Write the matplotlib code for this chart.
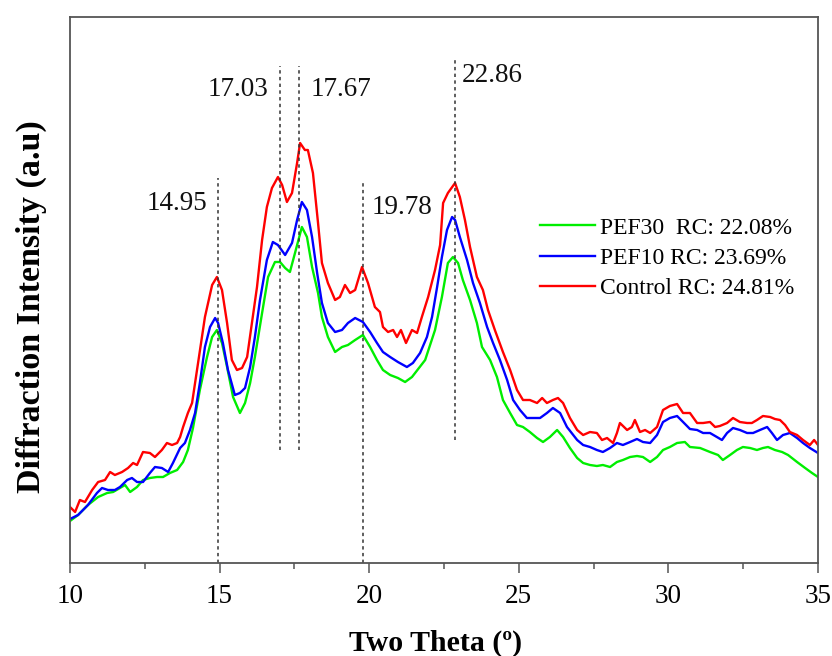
import matplotlib
matplotlib.use("Agg")
import matplotlib.pyplot as plt
from matplotlib.ticker import MultipleLocator

plt.rcParams['font.family'] = ['Liberation Serif', 'DejaVu Serif']

# ---- data: (2theta, intensity a.u.) ----
control = [(10.00,56),(10.17,51),(10.33,63),(10.50,61),(10.74,73),(10.94,81),(11.17,83),(11.34,91),(11.50,88),(11.74,91),
           (11.94,95),(12.11,100),(12.24,98),(12.44,111),(12.67,110),(12.84,106),(13.07,113),(13.24,120),(13.41,118),(13.58,120),
           (13.68,126),(13.78,136),(13.94,150),(14.08,160),(14.28,200),(14.51,246),(14.75,278),(14.91,286),(15.08,273),(15.25,240),
           (15.41,203),(15.58,193),(15.75,195),(15.92,206),(16.08,240),(16.25,276),(16.42,323),(16.58,356),(16.75,375),(16.95,386),
           (17.09,378),(17.25,361),(17.42,370),(17.59,400),(17.69,420),(17.85,413),(17.95,413),(18.12,390),(18.29,340),(18.42,300),
           (18.62,280),(18.86,263),(19.02,266),(19.19,278),(19.36,270),(19.53,273),(19.76,296),(19.96,280),(20.19,256),(20.36,251),
           (20.46,236),(20.63,231),(20.80,233),(20.93,226),(21.06,233),(21.23,220),(21.43,233),(21.60,230),(21.76,246),(21.97,266),
           (22.20,293),(22.37,318),(22.47,360),(22.63,370),(22.87,380),(23.03,366),(23.20,343),(23.37,316),(23.60,286),(23.80,273),
           (23.97,253),(24.20,233),(24.47,211),(24.71,193),(24.94,173),(25.14,163),(25.37,163),(25.61,160),(25.78,165),(25.94,160),
           (26.14,163),(26.31,165),(26.48,160),(26.71,145),(26.95,133),(27.15,128),(27.38,131),(27.61,130),(27.78,123),(27.95,125),
           (28.15,120),(28.28,130),(28.38,140),(28.62,133),(28.78,136),(28.88,143),(29.05,131),(29.22,133),(29.39,130),(29.62,136),
           (29.82,153),(30.05,157),(30.29,159),(30.49,150),(30.72,150),(30.96,140),(31.16,140),(31.39,141),(31.56,136),(31.72,137),
           (31.96,140),(32.16,145),(32.39,141),(32.63,140),(32.79,140),(32.96,143),(33.16,147),(33.40,146),(33.56,144),(33.73,143),
           (33.90,138),(34.06,131),(34.30,128),(34.50,123),(34.73,118),(34.87,123),(35.00,118)]

pef10 = [(10.00,44),(10.27,48),(10.60,58),(10.90,70),(11.07,75),(11.27,73),(11.50,73),(11.67,76),(11.91,83),(12.07,85),
         (12.24,81),(12.44,81),(12.67,90),(12.84,96),(13.07,95),(13.28,91),(13.44,100),(13.68,115),(13.84,120),(14.01,133),
         (14.18,150),(14.34,180),(14.51,216),(14.68,236),(14.85,245),(14.95,240),(15.11,220),(15.28,193),(15.51,168),(15.68,170),
         (15.85,175),(16.02,196),(16.18,226),(16.35,263),(16.58,303),(16.78,321),(16.95,318),(17.19,308),(17.42,320),(17.59,343),
         (17.75,361),(17.92,353),(18.09,326),(18.26,290),(18.42,260),(18.62,240),(18.86,231),(19.09,233),(19.29,240),(19.53,245),
         (19.79,241),(20.03,231),(20.26,220),(20.46,211),(20.70,206),(20.96,201),(21.26,196),(21.46,200),(21.70,210),(21.93,226),
         (22.10,246),(22.27,276),(22.43,306),(22.60,333),(22.77,346),(22.87,343),(23.03,326),(23.27,303),(23.47,280),(23.70,260),
         (23.94,236),(24.14,220),(24.37,203),(24.61,183),(24.81,163),(25.04,153),(25.27,145),(25.54,145),(25.71,145),(25.94,150),
         (26.14,155),(26.38,150),(26.61,136),(26.95,123),(27.15,118),(27.38,116),(27.61,113),(27.81,111),(28.05,115),(28.28,120),
         (28.48,118),(28.72,121),(28.95,124),(29.15,121),(29.39,120),(29.62,128),(29.82,141),(30.05,145),(30.29,147),(30.49,141),
         (30.72,134),(30.96,133),(31.16,130),(31.39,130),(31.62,126),(31.79,123),(31.96,130),(32.16,135),(32.39,133),(32.63,130),
         (32.83,130),(33.06,133),(33.30,136),(33.46,130),(33.63,123),(33.83,128),(34.06,130),(34.30,125),(34.50,120),(34.73,115),
         (35.00,110)]

pef30 = [(10.00,42),(10.27,48),(10.60,58),(10.94,66),(11.24,70),(11.44,71),(11.67,75),(11.84,78),(12.01,71),(12.24,76),
         (12.44,83),(12.67,85),(12.91,86),(13.11,86),(13.34,90),(13.58,93),(13.78,101),(13.94,113),(14.11,135),(14.34,173),
         (14.58,206),(14.75,226),(14.91,233),(15.08,220),(15.25,196),(15.45,166),(15.68,150),(15.85,160),(16.02,180),(16.18,206),
         (16.42,250),(16.62,286),(16.85,301),(17.02,301),(17.19,295),(17.35,291),(17.52,310),(17.75,336),(17.92,326),(18.09,296),
         (18.29,270),(18.42,246),(18.62,226),(18.86,211),(19.09,216),(19.29,218),(19.53,223),(19.79,228),(20.03,216),(20.26,203),
         (20.46,193),(20.70,188),(20.96,185),(21.20,181),(21.43,186),(21.87,203),(22.20,233),(22.43,266),(22.63,300),(22.80,306),
         (22.97,300),(23.13,283),(23.37,263),(23.60,240),(23.77,216),(24.04,203),(24.27,186),(24.47,163),(24.71,150),(24.94,138),
         (25.14,136),(25.37,131),(25.61,125),(25.81,121),(26.04,126),(26.28,133),(26.48,126),(26.71,115),(26.95,105),(27.15,100),
         (27.38,98),(27.61,97),(27.81,98),(28.05,96),(28.28,101),(28.48,103),(28.72,106),(28.95,107),(29.15,106),(29.39,101),
         (29.62,106),(29.82,113),(30.05,116),(30.29,120),(30.55,121),(30.72,116),(31.06,115),(31.39,111),(31.66,108),(31.82,103),
         (32.06,108),(32.29,113),(32.49,116),(32.73,115),(32.96,113),(33.16,115),(33.33,116),(33.56,113),(33.80,111),(34.00,108),
         (34.30,101),(34.57,95),(34.80,90),(35.00,86)]

series_labels = ["PEF30  RC: 22.08%", "PEF10 RC: 23.69%", "Control RC: 24.81%"]
series_colors = ["#00ee00", "#0000ff", "#ff0000"]

# peak markers: position, label, line top, line bottom, label x, label y, alignment
peak_pos = [14.95, 17.03, 17.67, 19.78, 22.86]
peak_text = ["14.95", "17.03", "17.67", "19.78", "22.86"]
line_top = [385, 497, 497, 383, 506]
line_bottom = [0, 113, 113, 0, 123]
label_x = [14.58, 16.62, 18.05, 20.09, 23.10]
label_y = [360, 473, 473, 356, 488]
label_ha = ["right", "right", "left", "left", "left"]

fig = plt.figure(figsize=(8.32, 6.56), dpi=100)
ax = fig.add_axes([70/832, 1-563/656, 748/832, 546/656])

for data, lab, col in zip([pef30, pef10, control], series_labels, series_colors):
    xs = [p[0] for p in data]
    ys = [p[1] for p in data]
    ax.plot(xs, ys, color=col, lw=1.7, label=lab)

for p, t, yt, yb, lx, ly, ha in zip(peak_pos, peak_text, line_top, line_bottom, label_x, label_y, label_ha):
    ax.plot([p, p], [yb, yt], color="#333333", lw=1.1, linestyle=(0, (2.2, 2.2)))
    ax.text(lx, ly, t, ha=ha, va="center", fontsize=19.5, color="#111111")

ax.set_xlim(10, 35)
ax.set_ylim(0, 546)
ax.xaxis.set_major_locator(MultipleLocator(5))
ax.xaxis.set_minor_locator(MultipleLocator(2.5))
ax.set_yticks([])
ax.tick_params(axis='x', which='major', direction='out', length=7, width=1.1,
               color="#555555", labelsize=19.5, pad=8, top=False)
ax.tick_params(axis='x', which='minor', direction='out', length=4, width=1.1,
               color="#555555", top=False)
for s in ax.spines.values():
    s.set_color("#555555")
    s.set_linewidth(1.3)

ax.set_xlabel("Two Theta (º)", fontsize=21.5, fontweight='bold')
ax.xaxis.set_label_coords(0.489, -0.122)
ax.set_ylabel("Diffraction Intensity (a.u)", fontsize=24.5, fontweight='bold')
ax.yaxis.set_label_coords(-0.031, 0.469)

leg = ax.legend(loc='center left', bbox_to_anchor=((540-70)/748, (563-258)/546),
                frameon=False, fontsize=17, handlelength=2.35, handletextpad=0.2,
                labelspacing=0.36, borderpad=0, borderaxespad=0)

fig.savefig("out.png", dpi=100)
